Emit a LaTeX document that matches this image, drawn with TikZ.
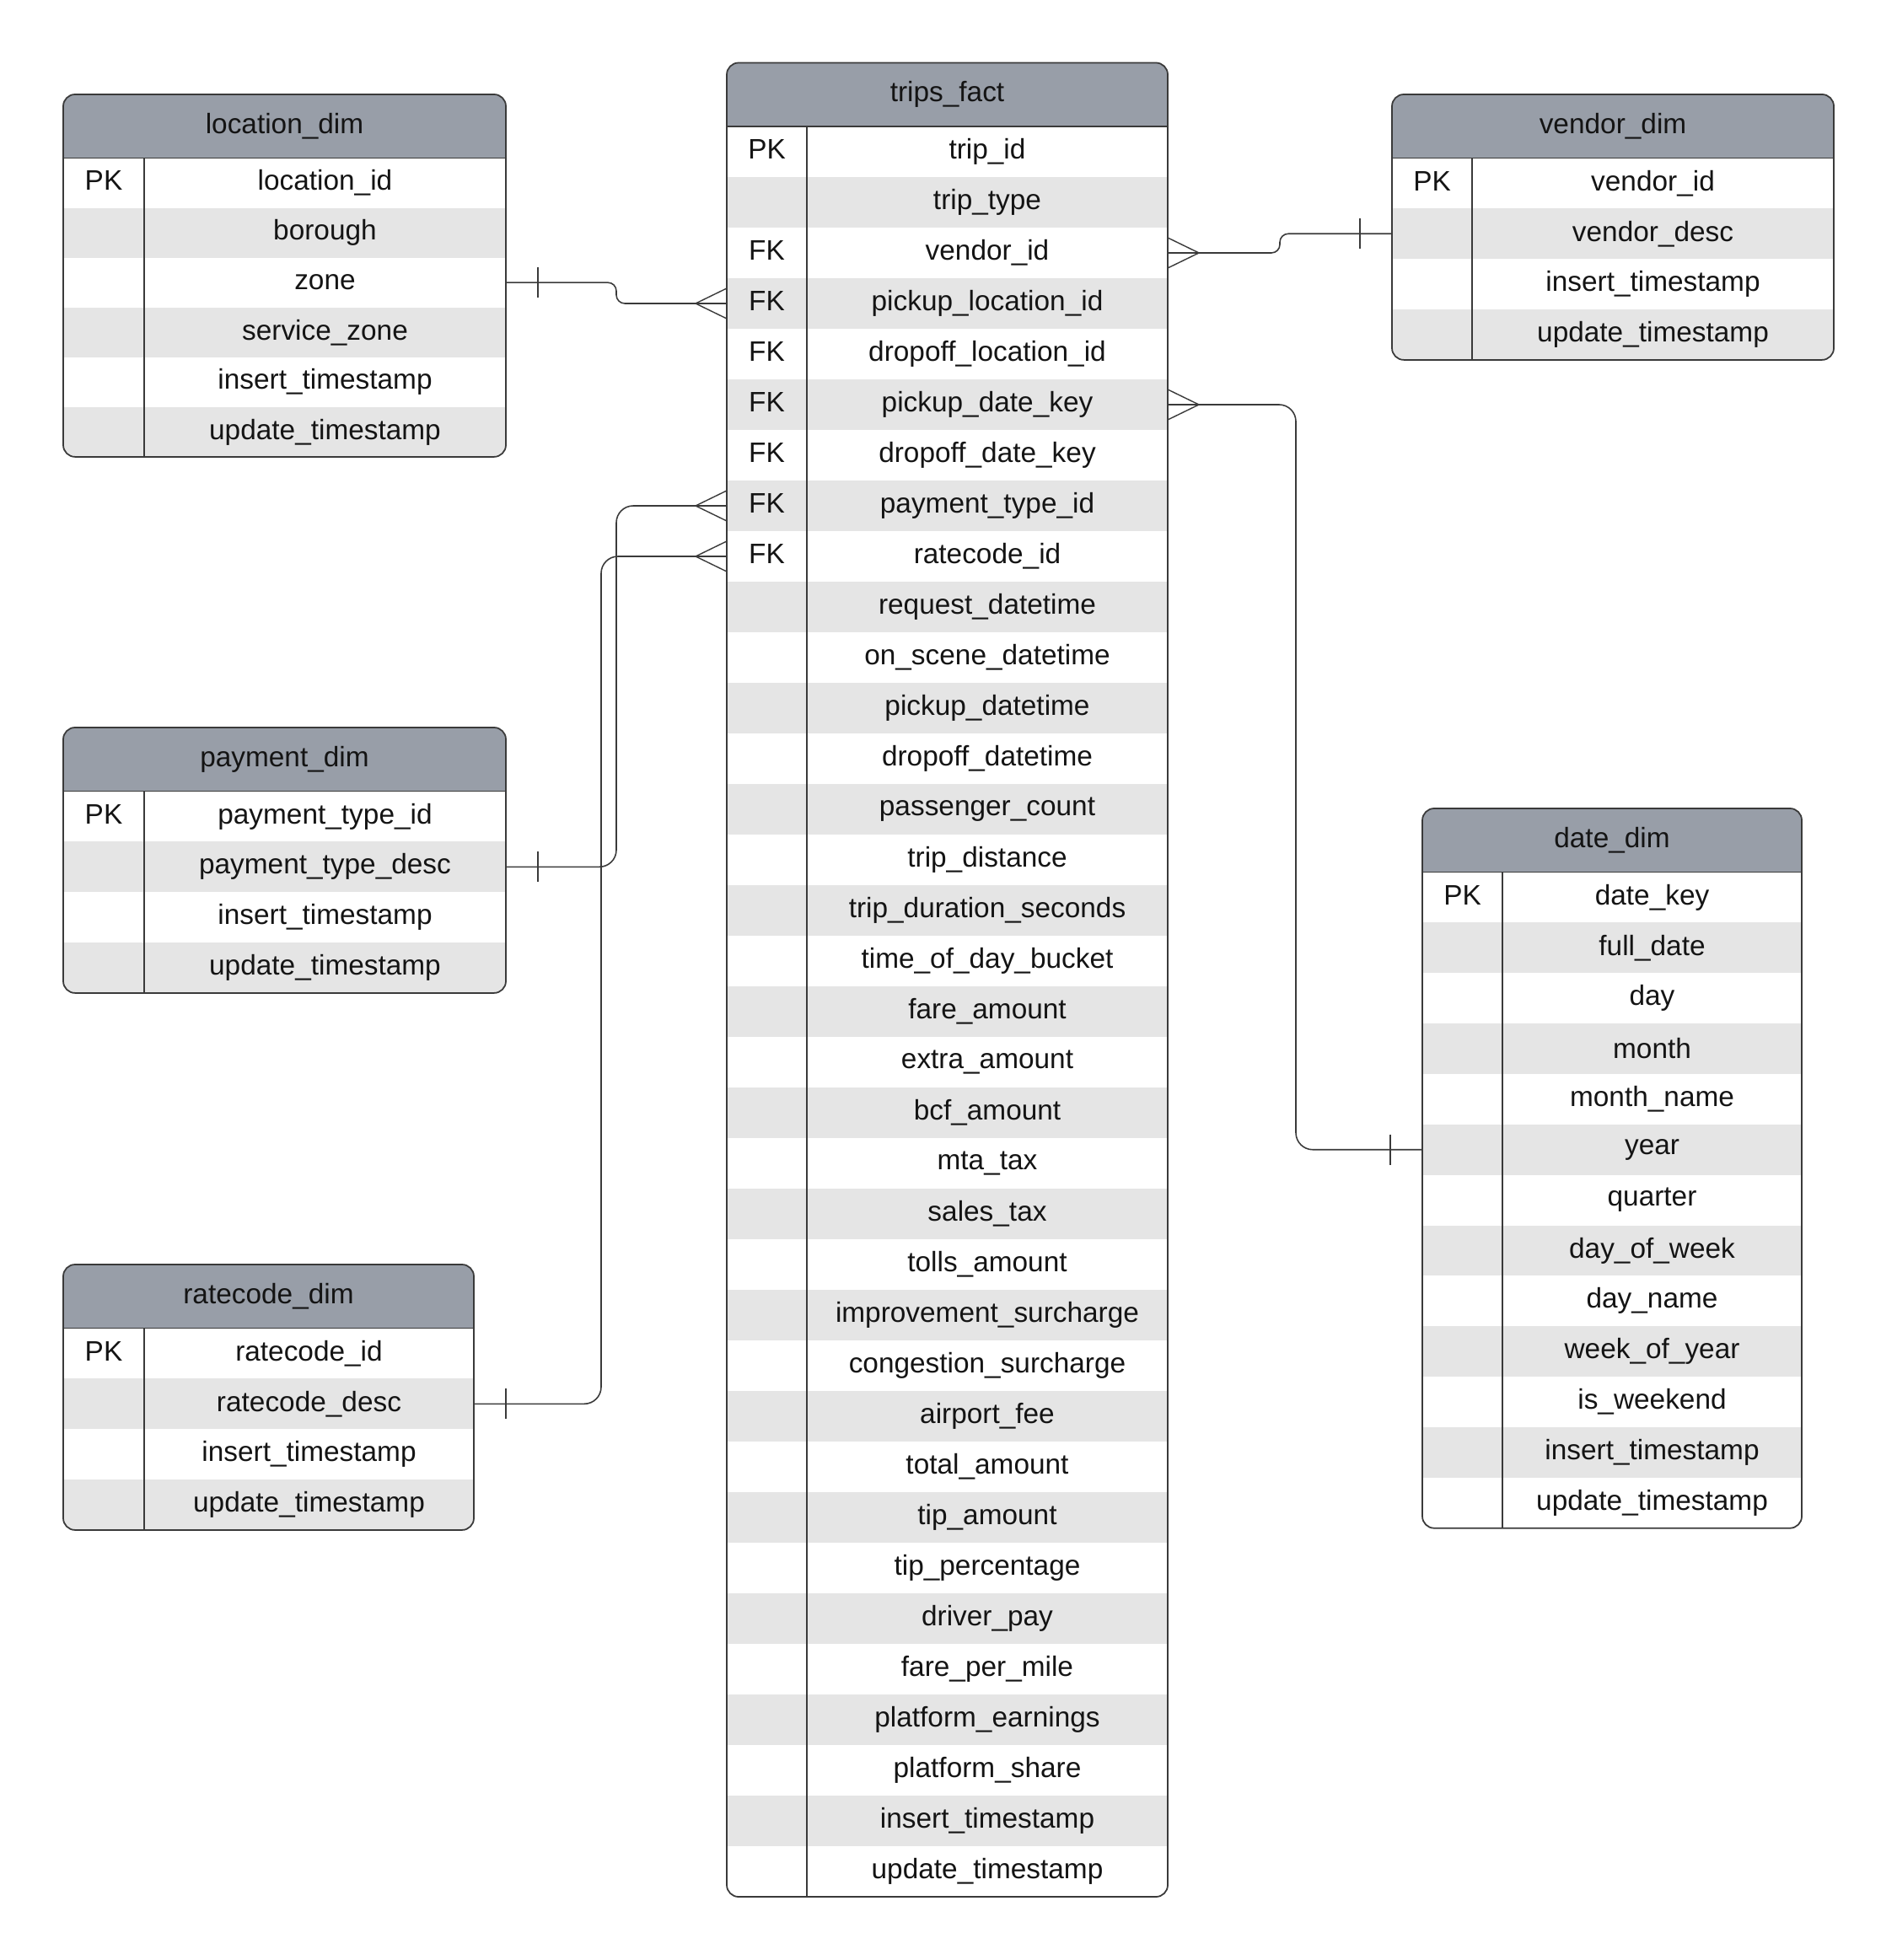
\documentclass[tikz,border=0pt]{standalone}
\usepackage{fontspec}
\setmainfont{Liberation Sans}
\begin{document}
\begin{tikzpicture}[
    kopf/.style={fill=kopfgrau, inner sep=0, outer sep=0, minimum height=0.755cm, text=schrift, font=\fontsize{9.5}{11}\selectfont},
    zeile/.style={inner sep=0, outer sep=0, minimum height=0.5986cm, text=schrift, font=\fontsize{9.5}{11}\selectfont},
    rahmen/.style={draw=linie, line width=0.5pt},
    verbindung/.style={draw=linie, line width=0.45pt},
    kfuss/.pic={\draw[draw=linie, line width=0.4pt] (0,0.18) -- (-0.37,0) -- (0,-0.18);},
    strich/.pic={\draw[draw=linie, line width=0.4pt] (0.38,0.18) -- (0.38,-0.18);}
]

\definecolor{kopfgrau}{RGB}{152,158,168}
\definecolor{zeilgrau}{RGB}{229,229,229}
\definecolor{linie}{RGB}{58,58,58}
\definecolor{schrift}{RGB}{20,20,20}

\useasboundingbox (0,0) rectangle (22.5,-23.25);

%location_dim
\begin{scope}[shift={(0.75,-1.12)}]
    %Farben
    \begin{scope}
        \clip[rounded corners=1.4mm] (0,0) rectangle (5.25,-4.299);
        \node[kopf, minimum width=5.25cm] (loc) at (2.625,-0.3775) {location\_dim};
        \foreach \k/\n [count=\i] in {PK/location\_id, /borough, /zone, /service\_zone, /insert\_timestamp, /update\_timestamp}{
            \ifodd\i \def\farbe{white}\else \def\farbe{zeilgrau}\fi
            \node[zeile, minimum height=0.5907cm, fill=\farbe] (loc-\i) at (2.625,{-0.755-(\i-0.5)*0.5907}) {\makebox[0.96cm]{\k}\makebox[4.29cm]{\n}};
        }
    \end{scope}
    %Rahmen
    \draw[rahmen, rounded corners=1.4mm] (0,0) rectangle (5.25,-4.299);
    \draw[rahmen] (0,-0.755) -- ++(5.25,0);
    \draw[rahmen] (0.96,-0.755) -- (0.96,-4.299);
\end{scope}

%trips_fact
\begin{scope}[shift={(8.62,-0.745)}]
    %Farben
    \begin{scope}
        \clip[rounded corners=1.4mm] (0,0) rectangle (5.23,-21.755);
        \node[kopf, minimum width=5.23cm] (trips) at (2.615,-0.3775) {trips\_fact};
        \foreach \k/\n [count=\i] in {PK/trip\_id, /trip\_type, FK/vendor\_id, FK/pickup\_location\_id, FK/dropoff\_location\_id,
            FK/pickup\_date\_key, FK/dropoff\_date\_key, FK/payment\_type\_id, FK/ratecode\_id, /request\_datetime,
            /on\_scene\_datetime, /pickup\_datetime, /dropoff\_datetime, /passenger\_count, /trip\_distance,
            /trip\_duration\_seconds, /time\_of\_day\_bucket, /fare\_amount, /extra\_amount, /bcf\_amount,
            /mta\_tax, /sales\_tax, /tolls\_amount, /improvement\_surcharge, /congestion\_surcharge,
            /airport\_fee, /total\_amount, /tip\_amount, /tip\_percentage, /driver\_pay,
            /fare\_per\_mile, /platform\_earnings, /platform\_share, /insert\_timestamp, /update\_timestamp}{
            \ifodd\i \def\farbe{white}\else \def\farbe{zeilgrau}\fi
            \node[zeile, minimum height=0.6cm, fill=\farbe] (trips-\i) at (2.615,{-0.755-(\i-0.5)*0.6}) {\makebox[0.95cm]{\k}\makebox[4.28cm]{\n}};
        }
    \end{scope}
    %Rahmen
    \draw[rahmen, rounded corners=1.4mm] (0,0) rectangle (5.23,-21.755);
    \draw[rahmen] (0,-0.755) -- ++(5.23,0);
    \draw[rahmen] (0.95,-0.755) -- (0.95,-21.755);
\end{scope}

%vendor_dim
\begin{scope}[shift={(16.51,-1.12)}]
    %Farben
    \begin{scope}
        \clip[rounded corners=1.4mm] (0,0) rectangle (5.24,-3.149);
        \node[kopf, minimum width=5.24cm] (vendor) at (2.62,-0.3775) {vendor\_dim};
        \foreach \k/\n [count=\i] in {PK/vendor\_id, /vendor\_desc, /insert\_timestamp, /update\_timestamp}{
            \ifodd\i \def\farbe{white}\else \def\farbe{zeilgrau}\fi
            \node[zeile, fill=\farbe] (vendor-\i) at (2.62,{-0.755-(\i-0.5)*0.5986}) {\makebox[0.95cm]{\k}\makebox[4.29cm]{\n}};
        }
    \end{scope}
    %Rahmen
    \draw[rahmen, rounded corners=1.4mm] (0,0) rectangle (5.24,-3.149);
    \draw[rahmen] (0,-0.755) -- ++(5.24,0);
    \draw[rahmen] (0.95,-0.755) -- (0.95,-3.149);
\end{scope}

%payment_dim
\begin{scope}[shift={(0.75,-8.63)}]
    %Farben
    \begin{scope}
        \clip[rounded corners=1.4mm] (0,0) rectangle (5.25,-3.149);
        \node[kopf, minimum width=5.25cm] (pay) at (2.625,-0.3775) {payment\_dim};
        \foreach \k/\n [count=\i] in {PK/payment\_type\_id, /payment\_type\_desc, /insert\_timestamp, /update\_timestamp}{
            \ifodd\i \def\farbe{white}\else \def\farbe{zeilgrau}\fi
            \node[zeile, fill=\farbe] (pay-\i) at (2.625,{-0.755-(\i-0.5)*0.5986}) {\makebox[0.96cm]{\k}\makebox[4.29cm]{\n}};
        }
    \end{scope}
    %Rahmen
    \draw[rahmen, rounded corners=1.4mm] (0,0) rectangle (5.25,-3.149);
    \draw[rahmen] (0,-0.755) -- ++(5.25,0);
    \draw[rahmen] (0.96,-0.755) -- (0.96,-3.149);
\end{scope}

%ratecode_dim
\begin{scope}[shift={(0.75,-15.0)}]
    %Farben
    \begin{scope}
        \clip[rounded corners=1.4mm] (0,0) rectangle (4.87,-3.149);
        \node[kopf, minimum width=4.87cm] (rate) at (2.435,-0.3775) {ratecode\_dim};
        \foreach \k/\n [count=\i] in {PK/ratecode\_id, /ratecode\_desc, /insert\_timestamp, /update\_timestamp}{
            \ifodd\i \def\farbe{white}\else \def\farbe{zeilgrau}\fi
            \node[zeile, fill=\farbe] (rate-\i) at (2.435,{-0.755-(\i-0.5)*0.5986}) {\makebox[0.96cm]{\k}\makebox[3.91cm]{\n}};
        }
    \end{scope}
    %Rahmen
    \draw[rahmen, rounded corners=1.4mm] (0,0) rectangle (4.87,-3.149);
    \draw[rahmen] (0,-0.755) -- ++(4.87,0);
    \draw[rahmen] (0.96,-0.755) -- (0.96,-3.149);
\end{scope}

%date_dim
\begin{scope}[shift={(16.87,-9.59)}]
    %Farben
    \begin{scope}
        \clip[rounded corners=1.4mm] (0,0) rectangle (4.5,-8.537);
        \node[kopf, minimum width=4.5cm] (date) at (2.25,-0.3775) {date\_dim};
        \foreach \k/\n [count=\i] in {PK/date\_key, /full\_date, /day, /month, /month\_name, /year, /quarter,
            /day\_of\_week, /day\_name, /week\_of\_year, /is\_weekend, /insert\_timestamp, /update\_timestamp}{
            \ifodd\i \def\farbe{white}\else \def\farbe{zeilgrau}\fi
            \node[zeile, fill=\farbe] (date-\i) at (2.25,{-0.755-(\i-0.5)*0.5986}) {\makebox[0.95cm]{\k}\makebox[3.55cm]{\n}};
        }
    \end{scope}
    %Rahmen
    \draw[rahmen, rounded corners=1.4mm] (0,0) rectangle (4.5,-8.537);
    \draw[rahmen] (0,-0.755) -- ++(4.5,0);
    \draw[rahmen] (0.95,-0.755) -- (0.95,-8.537);
\end{scope}

%Verbindungen
\draw[verbindung, rounded corners=1mm] (loc-3.east) -- (7.31,0 |- loc-3.east) -- (7.31,0 |- trips-4.west) -- (trips-4.west);
\pic at (loc-3.east) {strich};
\pic at (trips-4.west) {kfuss};

\draw[verbindung, rounded corners=1mm] (trips-3.east) -- (15.18,0 |- trips-3.east) -- (15.18,0 |- vendor-2.west) -- (vendor-2.west);
\pic[xscale=-1] at (trips-3.east) {kfuss};
\pic[xscale=-1] at (vendor-2.west) {strich};

\draw[verbindung, rounded corners=2mm] (trips-6.east) -- (15.37,0 |- trips-6.east) -- (15.37,0 |- date-6.west) -- (date-6.west);
\pic[xscale=-1] at (trips-6.east) {kfuss};
\pic[xscale=-1] at (date-6.west) {strich};

\draw[verbindung, rounded corners=2mm] (pay-2.east) -- (7.31,0 |- pay-2.east) -- (7.31,0 |- trips-8.west) -- (trips-8.west);
\pic at (pay-2.east) {strich};
\pic at (trips-8.west) {kfuss};

\draw[verbindung, rounded corners=2mm] (rate-2.east) -- (7.13,0 |- rate-2.east) -- (7.13,0 |- trips-9.west) -- (trips-9.west);
\pic at (rate-2.east) {strich};
\pic at (trips-9.west) {kfuss};

\end{tikzpicture}
\end{document}
